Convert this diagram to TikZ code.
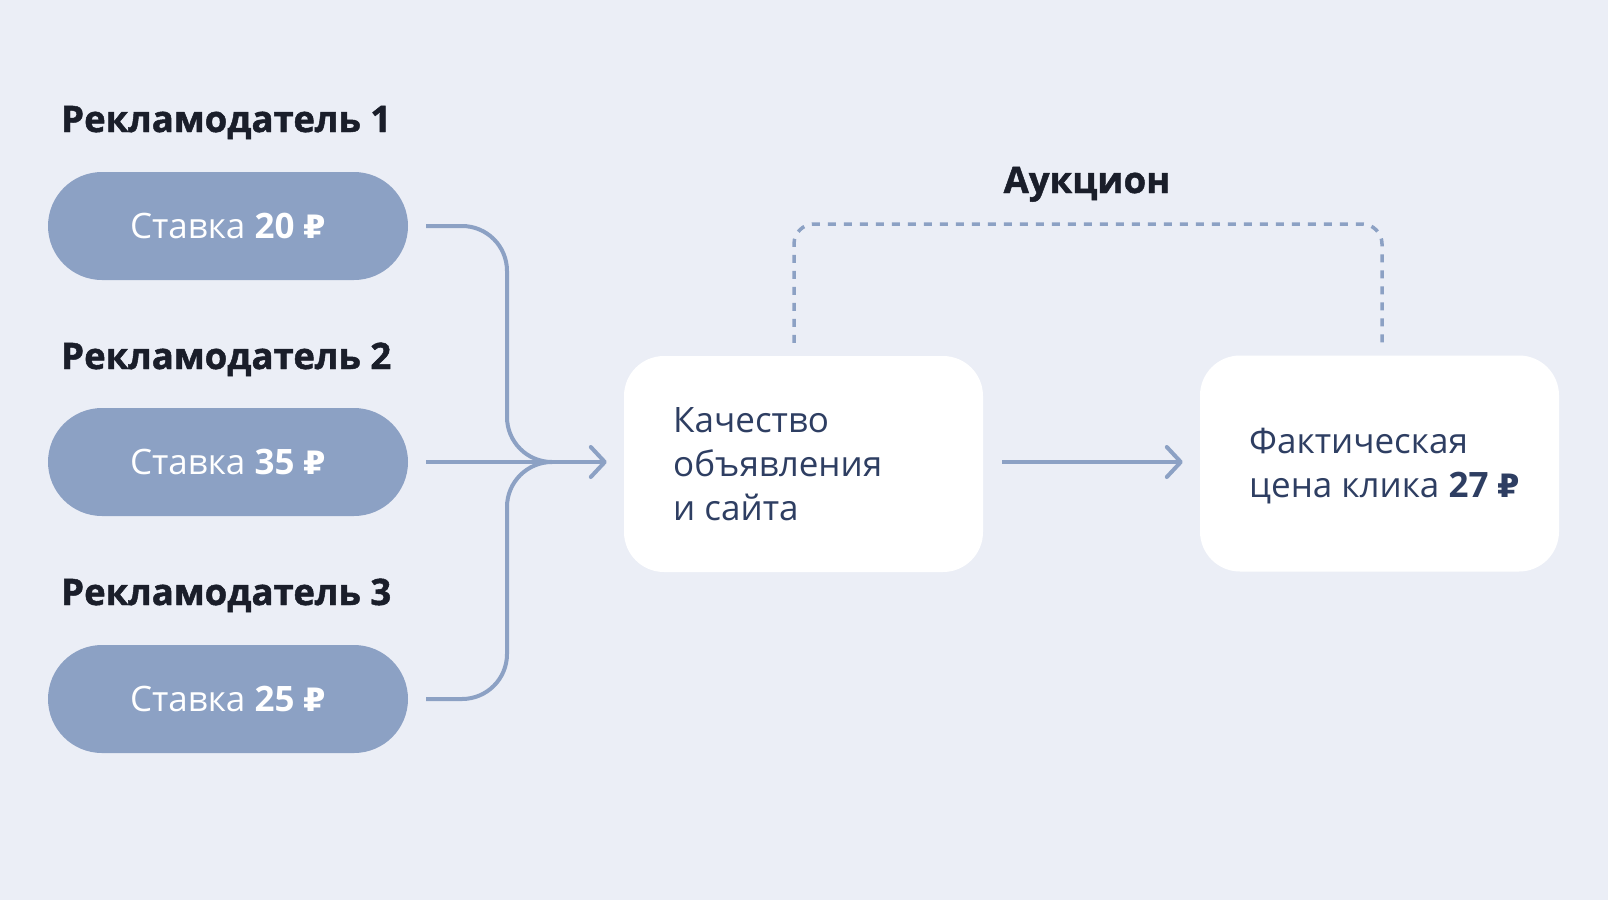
\documentclass[tikz,border=0pt]{standalone}
\usepackage{fontspec}
\setmainfont{Open Sans}
\newfontfamily\headfont{Open Sans}[BoldFeatures={FakeBold=1.3}]
\newfontfamily\rubfont{DejaVu Sans}[Scale=0.92]
\newcommand\rub{{\rubfont ₽}}
\usetikzlibrary{arrows.meta}
\definecolor{bgc}{HTML}{EBEEF6}
\definecolor{pillc}{HTML}{8CA1C4}
\definecolor{headc}{HTML}{1A1E2A}
\definecolor{boxtc}{HTML}{2E3E62}
\tikzset{
  heading/.style={anchor=base west, inner sep=0pt, text=headc, font=\fontsize{36.5}{44}\selectfont\headfont\bfseries},
  pill/.style={fill=pillc, draw=none, minimum width=360pt, minimum height=108pt, rounded corners=54pt, text=white, font=\fontsize{35}{42}\selectfont, inner sep=0pt},
  card/.style={fill=white, draw=none, minimum width=359pt, minimum height=216pt, rounded corners=40pt, inner sep=0pt},
  cardtext/.style={anchor=base west, inner sep=0pt, align=left, text=boxtc, font=\fontsize{35}{44}\selectfont},
  conn/.style={draw=pillc, line width=4pt, rounded corners=45pt},
  tipc/.style={-{Straight Barb[length=14pt,width=30pt,line width=4pt,round]}},
  auct/.style={draw=pillc, line width=3.5pt, dash pattern=on 8pt off 8pt, rounded corners=20pt}
}
\begin{document}
\begin{tikzpicture}[x=1pt,y=-1pt]
\useasboundingbox[fill=bgc] (0,0) rectangle (1608,900);
% headings
\node[heading] (h1) at (61,132) {Рекламодатель 1};
\node[heading] (h2) at (61,369) {Рекламодатель 2};
\node[heading] (h3) at (61,605) {Рекламодатель 3};
% pills
\node[pill] (p1) at (228,226) {Ставка \textbf{20 \rub}};
\node[pill] (p2) at (228,462) {Ставка \textbf{35 \rub}};
\node[pill] (p3) at (228,699) {Ставка \textbf{25 \rub}};
% cards
\node[card] (b1) at (803.5,464) {};
\node[card] (b2) at (1379.5,463.5) {};
\node[cardtext] (t1) at (673,520) {Качество\\объявления\\и сайта};
\node[cardtext] (t2) at (1249,497) {Фактическая\\цена клика \textbf{27 \rub}};
% auction label
\node[heading, anchor=base] (auc) at (1087,193) {Аукцион};
% connectors
\coordinate (m) at (552,462);
\path[conn] ([xshift=18pt]p1.east) -- (507,226) -- (507,462) -- (m);
\path[conn] ([xshift=18pt]p3.east) -- (507,699) -- (507,462) -- (m);
\draw[pillc, line width=4pt, tipc] ([xshift=18pt]p2.east) -- ([xshift=-17pt]b1.west |- p2.east);
\draw[pillc, line width=4pt, tipc] ([xshift=19pt]b1.east |- p2.east) -- ([xshift=-17pt]b2.west |- p2.east);
% auction bracket
\path[auct] ([xshift=-9.5pt,yshift=13pt]b1.north) -- ([xshift=-9.5pt]b1.north |- 0,224) -- ([xshift=2.5pt]b2.north |- 0,224) -- ([xshift=2.5pt,yshift=13pt]b2.north);
\end{tikzpicture}
\end{document}
